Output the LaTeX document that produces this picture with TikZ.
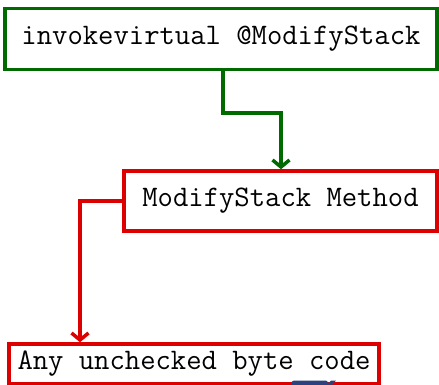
\documentclass[tikz,border=0pt]{standalone}
\usetikzlibrary{arrows.meta}
\definecolor{boxgreen}{RGB}{0,105,0}
\definecolor{boxred}{RGB}{220,0,0}
\definecolor{blobblue}{RGB}{45,65,125}
\begin{document}
\begin{tikzpicture}[x=1pt,y=-1pt,
  box/.style={draw,line width=3.5pt,inner sep=0pt,font=\fontsize{29.8}{36}\selectfont\ttfamily},
  greenbox/.style={box,draw=boxgreen},
  redbox/.style={box,draw=boxred},
  conn/.style={line width=3.5pt,-{Straight Barb[length=7pt,width=17pt]}}]
\useasboundingbox (0,0) rectangle (439,385);
\node[greenbox,minimum width=432pt,minimum height=61pt] (top) at (221,39) {invokevirtual @ModifyStack};
\node[redbox,minimum width=313pt,minimum height=60pt] (mid) at (280.5,201) {ModifyStack Method};
\node[redbox,minimum width=370pt,minimum height=40pt] (bot) at (194,364) {\raisebox{-2pt}{Any unchecked byte code}};
\coordinate (g1) at (223,113);
\coordinate (g2) at (281,113);
\draw[conn,draw=boxgreen] (top.south -| g1) -- (g1) -- (g2) -- (mid.north -| g2);
\coordinate (r1) at (80,201);
\draw[conn,draw=boxred] (mid.west) -- (r1) -- (bot.north -| r1);
\fill[blobblue] (291,385) -- (292,381.5) .. controls (292.5,380.5) .. (294,380.5) -- (326,380.5) -- (329,383) -- (331,380.5) -- (336,380.5) -- (333,383.5) -- (332,385) -- cycle;
\end{tikzpicture}
\end{document}
